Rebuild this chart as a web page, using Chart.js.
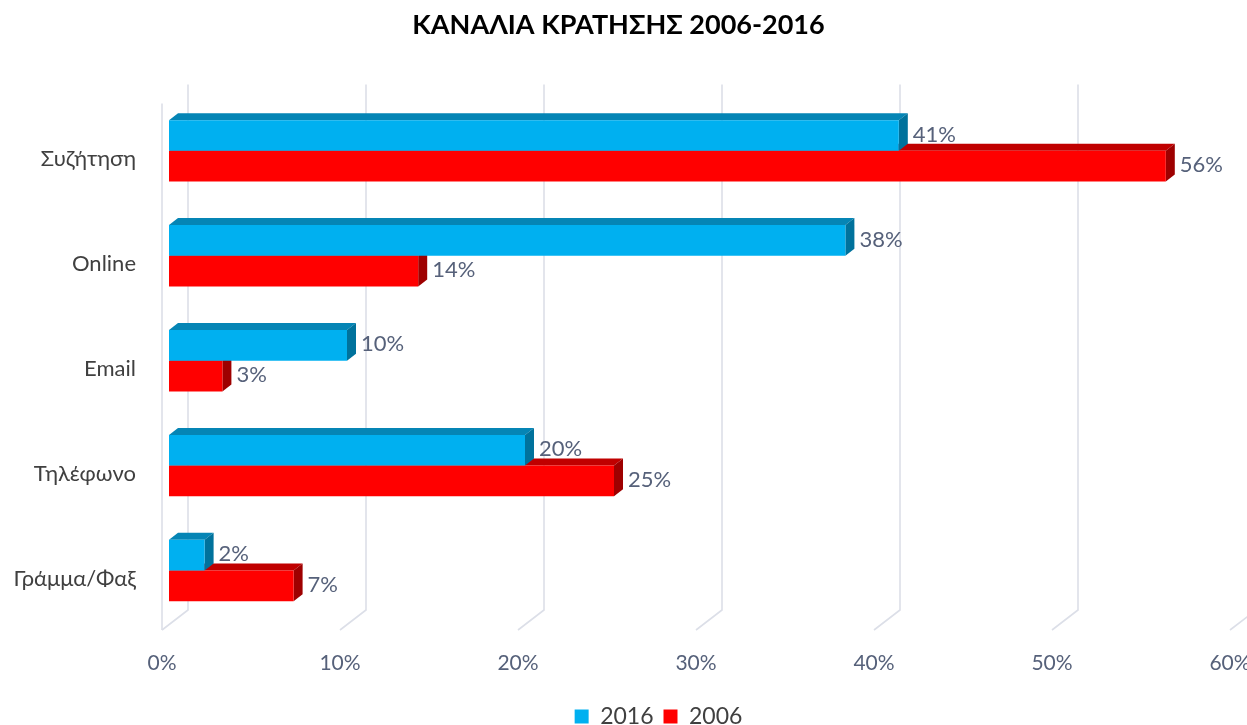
<!DOCTYPE html>
<html>
<head>
<meta charset="utf-8">
<script src="https://cdn.jsdelivr.net/npm/chart.js@4"></script>
<style>
  html, body { margin: 0; padding: 0; background: #fff; }
  #wrap { width: 1247px; height: 725px; }
</style>
</head>
<body>
<div id="wrap"><canvas id="chart1"></canvas></div>
<script>
const channels = ['Συζήτηση', 'Online', 'Email', 'Τηλέφωνο', 'Γράμμα/Φαξ'];
const values2016 = [41, 38, 10, 20, 2];
const values2006 = [56, 14, 3, 25, 7];
const xTicks = [0, 10, 20, 30, 40, 50, 60];

const fontFamily = "Lato, 'Noto Sans', sans-serif";
const depthX = 9;
const depthY = -7;

// faces of the 3d bars and the back wall, drawn before the flat fronts
const fake3d = {
  id: 'fake3d',
  afterLayout(chart) {
    // legend sits lower and a bit right of centre in the original
    if (chart.legend) {
      chart.legend.left += 40;
      chart.legend.right += 40;
      chart.legend.top += 13;
      chart.legend.bottom += 13;
    }
  },
  beforeDatasetsDraw(chart) {
    const ctx = chart.ctx;
    const area = chart.chartArea;
    const xs = chart.scales.x;

    ctx.save();
    ctx.strokeStyle = '#dcdfe8';
    ctx.lineWidth = 1.6;
    xTicks.forEach(v => {
      const fx = xs.getPixelForValue(v) - 7;
      ctx.beginPath();
      ctx.moveTo(fx, area.bottom + 7);
      ctx.lineTo(fx + 26, area.bottom - 13);
      ctx.lineTo(fx + 26, area.top - 14);
      ctx.stroke();
      if (v === 0) {
        ctx.beginPath();
        ctx.moveTo(fx, area.top + 5);
        ctx.lineTo(fx, area.bottom + 7);
        ctx.stroke();
      }
    });

    const faces = [
      { top: '#0585b5', side: '#00729c' },
      { top: '#c00000', side: '#9e0000' },
    ];
    for (let d = chart.data.datasets.length - 1; d >= 0; d--) {
      const meta = chart.getDatasetMeta(d);
      meta.data.forEach(bar => {
        const x0 = bar.base;
        const x1 = bar.x;
        const yTop = bar.y - bar.height / 2;
        const yBot = bar.y + bar.height / 2;
        ctx.fillStyle = faces[d].top;
        ctx.beginPath();
        ctx.moveTo(x0, yTop);
        ctx.lineTo(x1, yTop);
        ctx.lineTo(x1 + depthX, yTop + depthY);
        ctx.lineTo(x0 + depthX, yTop + depthY);
        ctx.closePath();
        ctx.fill();
        ctx.fillStyle = faces[d].side;
        ctx.beginPath();
        ctx.moveTo(x1, yTop);
        ctx.lineTo(x1 + depthX, yTop + depthY);
        ctx.lineTo(x1 + depthX, yBot + depthY);
        ctx.lineTo(x1, yBot);
        ctx.closePath();
        ctx.fill();
      });
    }
    ctx.restore();
  },
  afterDatasetsDraw(chart) {
    const ctx = chart.ctx;
    ctx.save();
    ctx.font = '22px ' + fontFamily;
    ctx.fillStyle = '#56617a';
    ctx.textAlign = 'left';
    ctx.textBaseline = 'middle';
    chart.data.datasets.forEach((ds, d) => {
      chart.getDatasetMeta(d).data.forEach((bar, i) => {
        ctx.fillText(ds.data[i] + '%', bar.x + depthX + 5, bar.y - 1);
      });
    });
    ctx.restore();
  },
};

const ctx = document.getElementById('chart1');
new Chart(ctx, {
  type: 'bar',
  data: {
    labels: channels,
    datasets: [
      {
        label: '2016',
        data: values2016,
        backgroundColor: '#00b0f0',
        categoryPercentage: 0.585,
        barPercentage: 1,
      },
      {
        label: '2006',
        data: values2006,
        backgroundColor: '#ff0000',
        categoryPercentage: 0.585,
        barPercentage: 1,
      },
    ],
  },
  options: {
    indexAxis: 'y',
    responsive: true,
    maintainAspectRatio: false,
    animation: false,
    layout: {
      padding: { left: 0, right: 10, top: 0, bottom: 0 },
    },
    scales: {
      x: {
        min: 0,
        max: 60,
        afterBuildTicks: s => {
          s.ticks = xTicks.map(v => ({ value: v }));
        },
        afterFit: s => {
          s.height = 59;
          s.paddingLeft = 0;
          s.paddingRight = 0;
        },
        grid: { display: false, drawTicks: false },
        border: { display: false },
        ticks: {
          callback: v => v + '%',
          color: '#56617a',
          padding: 28,
          labelOffset: -7,
          maxRotation: 0,
          font: { size: 21, family: fontFamily },
        },
      },
      y: {
        afterFit: s => {
          s.width = 169;
        },
        grid: { display: false, drawTicks: false },
        border: { display: false },
        ticks: {
          color: '#404040',
          padding: 33,
          labelOffset: 8,
          font: { size: 22, family: fontFamily },
        },
      },
    },
    plugins: {
      title: {
        display: true,
        text: 'ΚΑΝΑΛΙΑ ΚΡΑΤΗΣΗΣ 2006-2016',
        color: '#000000',
        padding: { top: 9, bottom: 57 },
        font: { size: 27, weight: 'bold', family: fontFamily },
      },
      legend: {
        position: 'bottom',
        labels: {
          boxWidth: 14,
          boxHeight: 14,
          color: '#404040',
          padding: 10,
          font: { size: 23, family: fontFamily, lineHeight: 1 },
        },
      },
      tooltip: { enabled: false },
    },
  },
  plugins: [fake3d],
});
</script>
</body>
</html>
